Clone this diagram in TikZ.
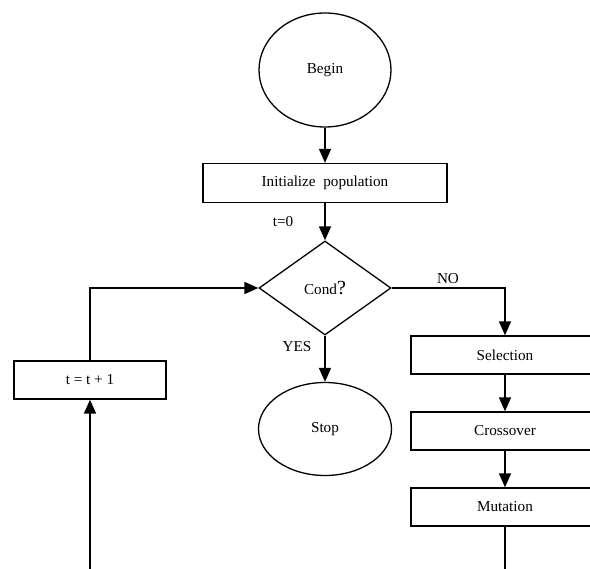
\documentclass[tikz,border=0pt]{standalone}
\usepackage{fontspec}
\setmainfont{Liberation Serif}
\usetikzlibrary{arrows.meta,shapes.geometric}

\tikzset{
	term/.style={draw, ellipse, line width=1.3pt, inner sep=0pt},
	procbox/.style={draw, rectangle, line width=1.3pt, inner sep=0pt},
	test/.style={draw, diamond, line width=1.3pt, inner sep=0pt},
	flow/.style={line width=1.7pt, -{Triangle[length=14pt,width=12pt]}},
	lbl/.style={inner sep=0pt}
}

\begin{document}
\begin{tikzpicture}[x=1pt, y=-1pt, font=\fontsize{15.2}{17}\selectfont]
		\clip (0,0) rectangle (590,569);
		\useasboundingbox (0,0) rectangle (590,569);
		% main column
		\node[term, minimum width=132pt, minimum height=114pt] (begin) at (325,70) {Begin};
		\node[procbox, minimum width=244pt, minimum height=39pt] (init) at (325,183) {Initialize\ \ population};
		\node[test, minimum width=132pt, minimum height=94pt] (cond) at (325,288) {Cond{\fontsize{20}{22}\selectfont ?}};
		\node[term, minimum width=133pt, minimum height=93pt] (stop) at (325,429) {Stop};
		% right column
		\node[procbox, minimum width=188pt, minimum height=38pt] (sel) at (505,355) {Selection};
		\node[procbox, minimum width=188pt, minimum height=38pt] (cross) at (505,431) {Crossover};
		\node[procbox, minimum width=188pt, minimum height=38pt] (mut) at (505,507) {Mutation};
		% left column
		\node[procbox, minimum width=152pt, minimum height=38pt] (inc) at (90,380) {t = t + 1};
		\coordinate (corner) at (90,288);
		\coordinate (turn) at (505,288);
		\coordinate (loopin) at (90,569);
		\coordinate (loopout) at (505,569);
		% labels
		\node[lbl] (tzero) at (283,222) {t=0};
		\node[lbl] (yes) at (297,347) {YES};
		\node[lbl] (no) at (448,279) {NO};
		% connectors
		\draw[flow] (begin) -- (init);
		\draw[flow] (init) -- (cond);
		\draw[flow] (cond) -- (stop);
		\draw[flow] (cond.east) -- (turn) -- (sel);
		\draw[flow] (sel) -- (cross);
		\draw[flow] (cross) -- (mut);
		\draw[line width=1.7pt] (mut) -- (loopout);
		\draw[flow] (loopin) -- (inc);
		\draw[flow] (inc) -- (corner) -- (cond.west);
	\end{tikzpicture}
\end{document}
